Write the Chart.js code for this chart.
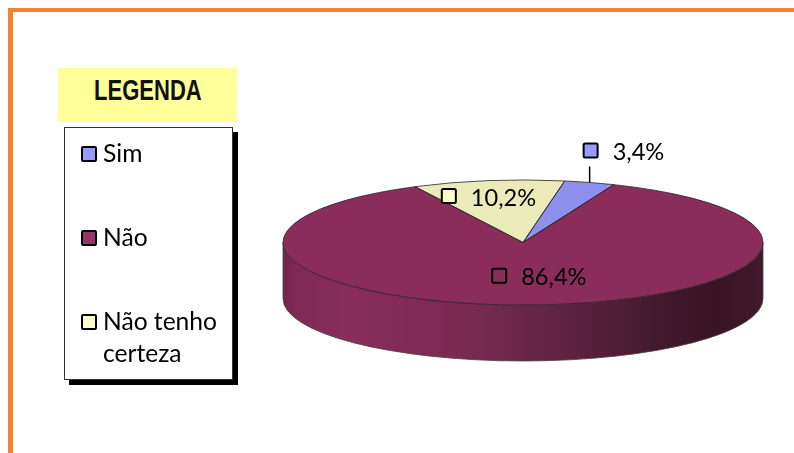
<!DOCTYPE html>
<html lang="pt">
<head>
<meta charset="utf-8">
<style>
  html, body { margin: 0; padding: 0; background: #fff; width: 794px; height: 453px; overflow: hidden; }
  #frameTop { position: absolute; left: 8px; top: 8px; width: 786px; height: 4px; background: #f58233; }
  #frameLeft { position: absolute; left: 8px; top: 8px; width: 5px; height: 445px; background: #f58233; }
  canvas { position: absolute; left: 0; top: 0; }
  #legendTitle { position: absolute; left: 58px; top: 68px; width: 179px; height: 54px; background: #ffff99;
    font: bold 29px "Liberation Sans", sans-serif; color: #111; text-align: center; line-height: 44px; }
  #legendTitle span { display: inline-block; transform: scaleX(0.76); transform-origin: center; }
  #legendBox { position: absolute; left: 64px; top: 127px; width: 167px; height: 251px; background: #fff;
    border: 1px solid #333; box-shadow: 5px 5px 0 #000; }
  .item { position: absolute; left: 16px; display: flex; }
  .sw { width: 12px; height: 12px; border: 2px solid #000; border-radius: 2px; margin-top: 1px; margin-right: 6px; flex: none; }
  .tx { font: 24.6px/32px Lato, sans-serif; color: #000; width: 128px; margin-top: -8px; }
</style>
</head>
<body>
<div id="frameTop"></div>
<div id="frameLeft"></div>
<canvas id="c" width="794" height="453"></canvas>
<div id="legendTitle"><span></span></div>
<div id="legendBox"></div>
<script src="https://cdn.jsdelivr.net/npm/chart.js@4"></script>
<script>
const legendTitle = "LEGENDA";
const categories = ["Sim", "Não", "Não tenho certeza"];
const values = [3.4, 86.4, 10.2];
const valueLabels = ["3,4%", "86,4%", "10,2%"];
const faceColors = ["#8f8fee", "#8a2d5b", "#ebebba"];
const swatchColors = ["#9999ff", "#993366", "#ffffcc"];
const labelSwatchColors = ["#9999ff", "#8a2d5b", "#ffffcc"];

const RX = 240, RY = 62.5, DEPTH = 56;
const labelRadial = [1, 0.55, 0.75];
const labelOffset = [[1, -32], [-29, -1], [-48, 0]];
const legendTops = [17, 101, 185];

document.querySelector("#legendTitle span").textContent = legendTitle;
const box = document.getElementById("legendBox");
categories.forEach((name, i) => {
  const item = document.createElement("div");
  item.className = "item";
  item.style.top = legendTops[i] + "px";
  const sw = document.createElement("div");
  sw.className = "sw";
  sw.style.background = swatchColors[i];
  const tx = document.createElement("div");
  tx.className = "tx";
  tx.textContent = name;
  item.append(sw, tx);
  box.append(item);
});

const pie3d = {
  id: "pie3d",
  beforeDatasetsDraw(chart) {
    const ctx = chart.ctx, arcs = chart.getDatasetMeta(0).data, a0 = arcs[0];
    const cx = a0.x, cy = a0.y;
    // side wall: visible part of each slice on the front half
    arcs.forEach((arc) => {
      for (const k of [-2, 0, 2]) {
        const s = Math.max(arc.startAngle + k * Math.PI, 0);
        const e = Math.min(arc.endAngle + k * Math.PI, Math.PI);
        if (e <= s) continue;
        const g = ctx.createLinearGradient(cx - RX, 0, cx + RX, 0);
        g.addColorStop(0, "#70254a");
        g.addColorStop(0.03, "#7f2a55");
        g.addColorStop(0.14, "#8a2d5b");
        g.addColorStop(0.4, "#762a50");
        g.addColorStop(0.6, "#5e2240");
        g.addColorStop(0.78, "#421a2d");
        g.addColorStop(0.9, "#371424");
        g.addColorStop(1, "#3f1a2c");
        ctx.save();
        ctx.beginPath();
        ctx.ellipse(cx, cy, RX, RY, 0, s, e);
        ctx.ellipse(cx, cy + DEPTH, RX, RY, 0, e, s, true);
        ctx.closePath();
        ctx.fillStyle = g;
        ctx.fill();
        ctx.strokeStyle = "#4a4048";
        ctx.lineWidth = 0.8;
        ctx.stroke();
        ctx.restore();
      }
    });
    // flatten the pie the library is about to draw
    const r = a0.outerRadius;
    ctx.save();
    ctx.translate(cx, cy);
    ctx.scale(RX / r, RY / r);
    ctx.translate(-cx, -cy);
  },
  afterDatasetsDraw(chart) {
    const ctx = chart.ctx, arcs = chart.getDatasetMeta(0).data;
    ctx.restore();
    const cx = arcs[0].x, cy = arcs[0].y;
    // slice outlines
    arcs.forEach((arc) => {
      ctx.beginPath();
      ctx.moveTo(cx, cy);
      ctx.ellipse(cx, cy, RX, RY, 0, arc.startAngle, arc.endAngle);
      ctx.closePath();
      ctx.strokeStyle = "#2b2226";
      ctx.lineWidth = 0.8;
      ctx.stroke();
    });
    // value labels
    arcs.forEach((arc, i) => {
      const mid = (arc.startAngle + arc.endAngle) / 2;
      const ax = cx + Math.cos(mid) * RX * labelRadial[i];
      const ay = cy + Math.sin(mid) * RY * labelRadial[i];
      const sx = ax + labelOffset[i][0], sy = ay + labelOffset[i][1];
      if (labelRadial[i] === 1) {
        ctx.beginPath();
        ctx.moveTo(ax, ay);
        ctx.lineTo(ax, ay - 16);
        ctx.strokeStyle = "#000";
        ctx.lineWidth = 1.5;
        ctx.stroke();
      }
      ctx.beginPath();
      ctx.roundRect(sx - 7, sy - 7, 14, 14, 1.5);
      ctx.fillStyle = labelSwatchColors[i];
      ctx.fill();
      ctx.strokeStyle = "#000";
      ctx.lineWidth = 2;
      ctx.stroke();
      ctx.font = "23.6px Lato, sans-serif";
      ctx.fillStyle = "#000";
      ctx.textAlign = "left";
      ctx.textBaseline = "middle";
      ctx.fillText(valueLabels[i], sx + 22, sy + 2);
    });
  }
};

new Chart(document.getElementById("c"), {
  type: "pie",
  data: {
    labels: categories,
    datasets: [{ data: values, backgroundColor: faceColors, borderWidth: 0, hoverOffset: 0 }]
  },
  options: {
    responsive: false,
    animation: false,
    rotation: 10,
    layout: { padding: { left: 252, top: 32 } },
    plugins: { legend: { display: false }, tooltip: { enabled: false } }
  },
  plugins: [pie3d]
});
</script>
</body>
</html>
